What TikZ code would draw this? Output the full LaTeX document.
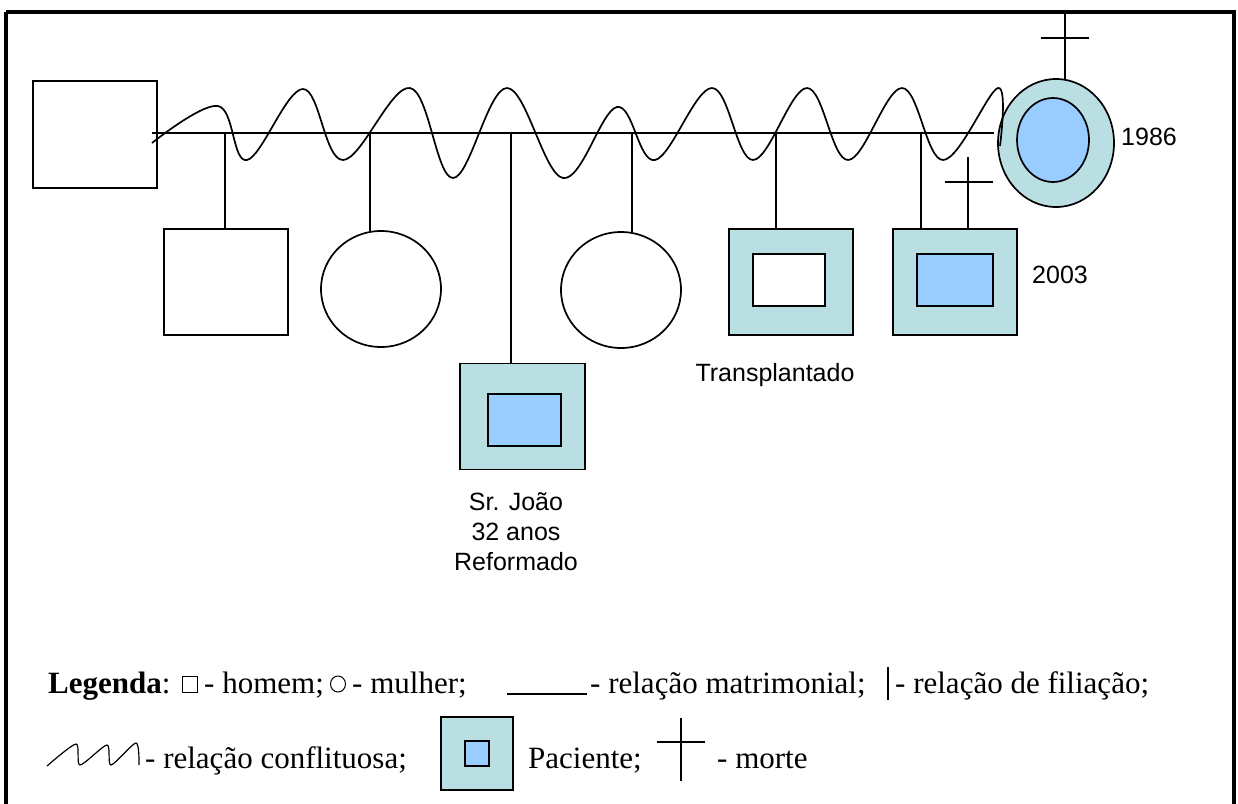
\documentclass[tikz,border=0pt]{standalone}
\usepackage{fontspec}
\setmainfont{Liberation Serif}
\newfontfamily\arialf{Liberation Sans}
\usetikzlibrary{shapes.geometric}
\definecolor{tealA}{RGB}{186,223,226}
\definecolor{blueA}{RGB}{153,204,255}
\tikzset{
  shp/.style={draw=black, line width=1.7pt, inner sep=0pt, outer sep=0pt},
  male/.style={shp, rectangle, fill=white},
  female/.style={shp, ellipse, fill=white},
  patout/.style={shp, rectangle, fill=tealA},
  patin/.style={shp, rectangle, fill=blueA},
  lbl/.style={font=\arialf\fontsize{25}{30}\selectfont, inner sep=0pt, align=center},
  leg/.style={font=\fontsize{31}{36}\selectfont, anchor=base west, inner sep=0pt},
  ln/.style={line width=1.7pt},
}
\begin{document}
\begin{tikzpicture}[x=1pt,y=-1pt]
\useasboundingbox (0,0) rectangle (1238,803);
\fill[white] (0,0) rectangle (1238,803);
% frame
\draw[line width=3.5pt] (6,12) -- (1234,12) -- (1234,810);
\draw[line width=3.5pt] (6,12) -- (6,810);

% parents
\node[male, minimum width=124, minimum height=107] (fa) at (95,134.5) {};
\node[patout, ellipse, minimum width=116, minimum height=128] (mo) at (1056,143) {};
\node[patin, ellipse, minimum width=72, minimum height=84] (moi) at (1053,140) {};
\node[lbl, anchor=west] (y86) at (1121,137) {1986};

% children
\node[male, minimum width=124, minimum height=106] (s1) at (226,282) {};
\node[female, minimum width=120, minimum height=116] (c1) at (381,289) {};
\node[patout, minimum width=125, minimum height=106] (jo) at (522.5,416.5) {};
\node[patin, minimum width=73, minimum height=52] (joi) at (524.5,420) {};
\node[female, minimum width=120, minimum height=116] (c2) at (621,290) {};
\node[patout, minimum width=124, minimum height=106] (tr) at (791,282) {};
\node[shp, rectangle, fill=white, minimum width=72, minimum height=52] (tri) at (789,280) {};
\node[patout, minimum width=124, minimum height=106] (d3) at (955,282) {};
\node[patin, minimum width=76, minimum height=52] (d3i) at (955,280) {};

% marriage line
\coordinate (mL) at (152,133);
\coordinate (mR) at (994,133);
\draw[ln] (mL) -- (mR);

% conflict wave
\draw[ln] plot[smooth, tension=0.62] coordinates {(152,143) (218,106) (247,160) (303,89) (343,160) (410,88) (453,178) (507,88) (563,178) (617,107) (655,160) (712,88) (753,160) (807,88) (848,160) (902,88) (943,160) (998,88) (1000,146)};

% mother death cross
\coordinate (mt) at (1065,12);
\draw[ln] (mt) -- (mt |- mo.north);
\coordinate (mcl) at (1041,38);
\coordinate (mcr) at (1089,38);
\draw[ln] (mcl) -- (mcr);

% filiation lines
\coordinate (k1) at (225,133);
\coordinate (k2) at (370,133);
\coordinate (k3) at (511,133);
\coordinate (k4) at (632,133);
\coordinate (k5) at (776,133);
\coordinate (k6) at (921,133);
\draw[ln] (k1) -- (k1 |- s1.north);
\draw[ln] (k2) -- (k2 |- c1.north);
\draw[ln] (k3) -- (k3 |- jo.north);
\draw[ln] (k4) -- (k4 |- c2.north);
\draw[ln] (k5) -- (k5 |- tr.north);
\draw[ln] (k6) -- (k6 |- d3.north);

% death cross over 2003
\coordinate (dt) at (968,157);
\draw[ln] (dt) -- (dt |- d3.north);
\coordinate (dcl) at (945,182);
\coordinate (dcr) at (993,182);
\draw[ln] (dcl) -- (dcr);

% labels
\node[lbl] (jol) at (516,532) {Sr. João\\32 anos\\Reformado};
\node[lbl] (trl) at (775,375) {Transplantado};
\node[lbl, anchor=west] (y03) at (1032,275) {2003};

% legend line 1
\node[leg] (lg1) at (48,693) {\textbf{Legenda}:};
\node[shp, line width=1pt, minimum width=15, minimum height=16] (lsq) at (190,684) {};
\node[leg] (lg2) at (204,693) {- homem;};
\node[shp, line width=1pt, ellipse, minimum width=15, minimum height=16] (lci) at (338,684) {};
\node[leg] (lg3) at (352,693) {- mulher;};
\coordinate (ul1) at (507,694);
\coordinate (ul2) at (587,694);
\draw[line width=2.5pt] (ul1) -- (ul2);
\node[leg] (lg4) at (590,693) {- relação matrimonial;};
\coordinate (vb1) at (888,667);
\coordinate (vb2) at (888,700);
\draw[line width=1.2pt] (vb1) -- (vb2);
\node[leg] (lg5) at (895,693) {- relação de filiação;};

% legend line 2
\draw[line width=1.2pt] plot[smooth, tension=0.45] coordinates {(47,766) (76,744) (80,765) (107,745) (111,765) (136,743) (139,765)};
\node[leg] (lg6) at (145,768) {- relação conflituosa;};
\node[patout, line width=1.3pt, minimum width=72, minimum height=73] (lbx) at (477,753.5) {};
\node[patin, line width=1.3pt, minimum width=24, minimum height=25] (lbi) at (477,753.5) {};
\node[leg] (lg7) at (528,768) {Paciente;};
\coordinate (lx1) at (681,718);
\coordinate (lx2) at (681,781);
\draw[line width=1.3pt] (lx1) -- (lx2);
\coordinate (lx3) at (657,742);
\coordinate (lx4) at (705,742);
\draw[line width=1.3pt] (lx3) -- (lx4);
\node[leg] (lg8) at (717,768) {- morte};
\end{tikzpicture}
\end{document}
